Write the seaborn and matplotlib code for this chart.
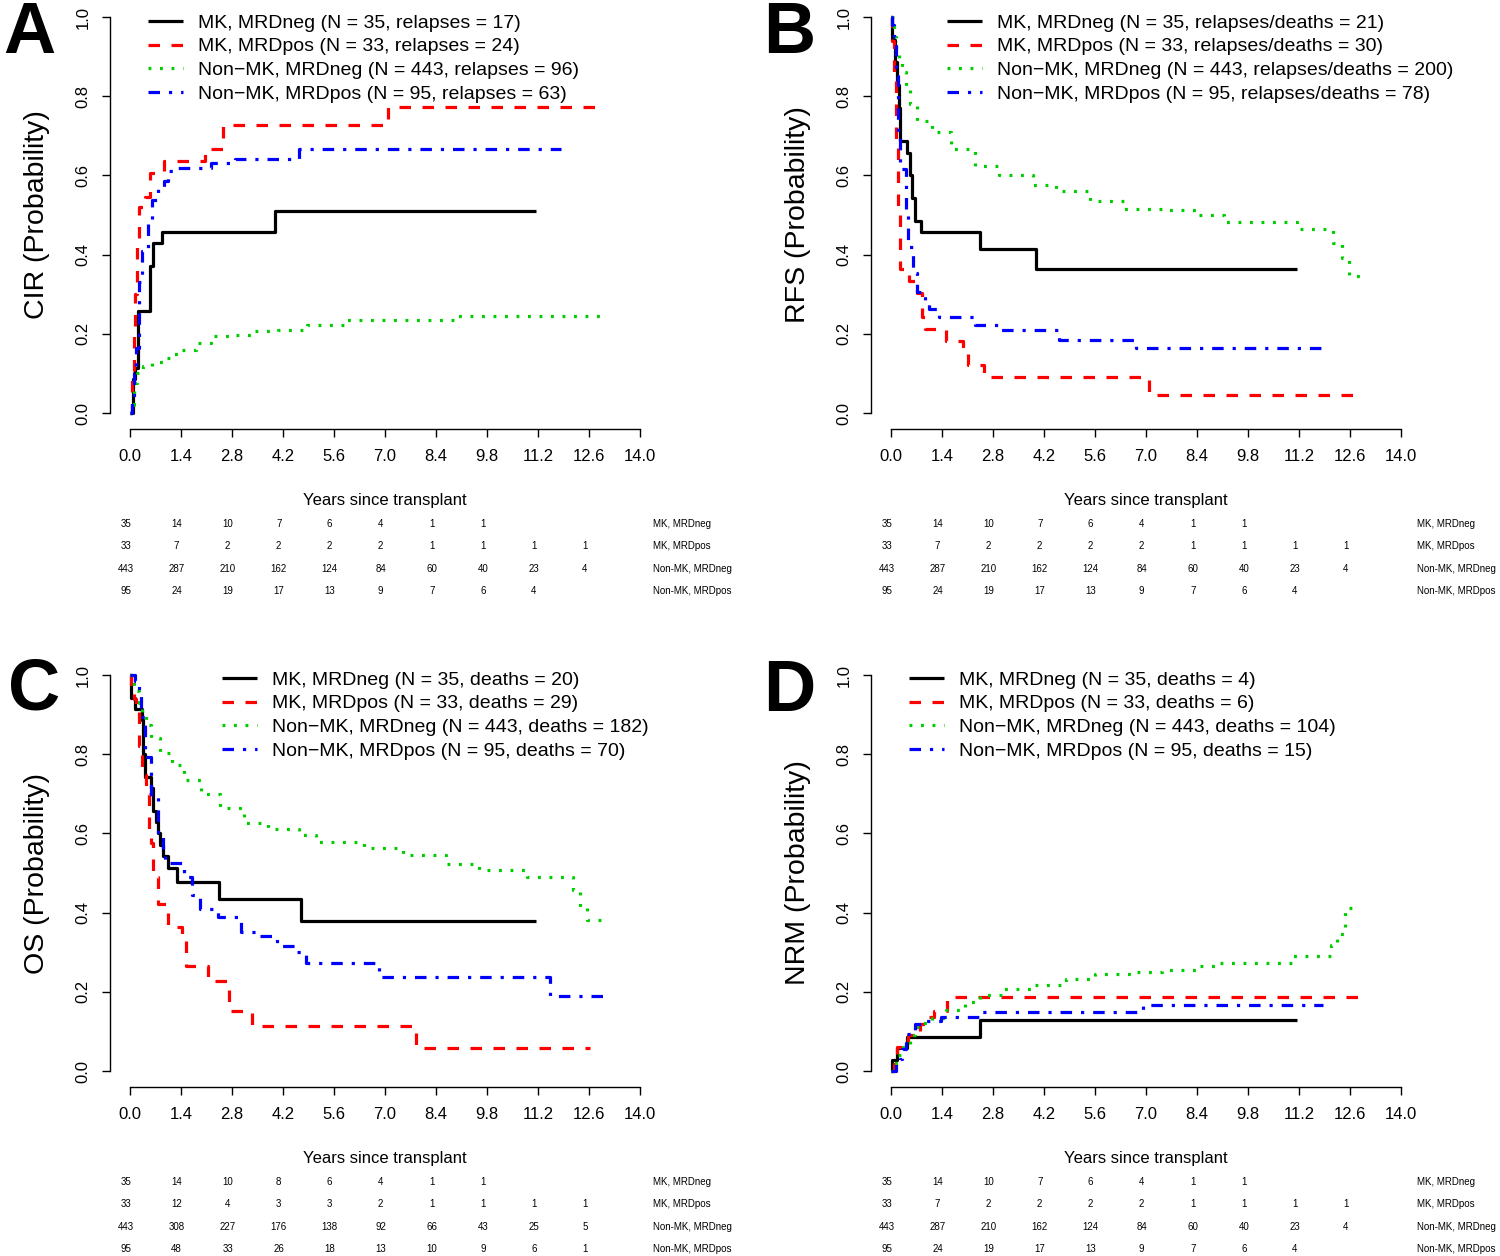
import numpy as np
import pandas as pd
import seaborn as sns
import matplotlib.pyplot as plt
from matplotlib.transforms import blended_transform_factory

# groups shown in every panel
groups = ['MK, MRDneg', 'MK, MRDpos', 'Non-MK, MRDneg', 'Non-MK, MRDpos']
colors = ['#000000', '#FF0000', '#00CD00', '#0000FF']

# ---- A: CIR ----
cir_mk_neg_t = [0, 0.07, 0.15, 0.22, 0.54, 0.63, 0.87, 3.99, 11.13]
cir_mk_neg_v = [0, 0.086, 0.114, 0.257, 0.371, 0.429, 0.457, 0.509, 0.509]
cir_mk_pos_t = [0, 0.05, 0.1, 0.14, 0.2, 0.24, 0.41, 0.54, 0.92, 2.06, 2.54, 7.09, 13.02]
cir_mk_pos_v = [0, 0.09, 0.2, 0.3, 0.42, 0.52, 0.545, 0.606, 0.636, 0.667, 0.727, 0.773, 0.773]
cir_nmk_neg_t = [0, 0.04, 0.1, 0.2, 0.37, 0.6, 0.9, 1.15, 1.42, 1.8, 2.21, 2.74, 3.4, 4.06, 4.85, 5.9, 9.0, 12.89]
cir_nmk_neg_v = [0, 0.02, 0.076, 0.1, 0.118, 0.13, 0.139, 0.15, 0.16, 0.178, 0.194, 0.198, 0.206, 0.21, 0.223, 0.234, 0.244, 0.244]
cir_nmk_pos_t = [0, 0.05, 0.1, 0.17, 0.24, 0.34, 0.5, 0.61, 0.76, 0.94, 1.03, 1.29, 2.21, 2.87, 4.65, 11.83]
cir_nmk_pos_v = [0, 0.04, 0.1, 0.164, 0.33, 0.408, 0.488, 0.539, 0.572, 0.585, 0.61, 0.62, 0.631, 0.641, 0.667, 0.667]

# ---- B: RFS ----
rfs_mk_neg_t = [0, 0.03, 0.1, 0.17, 0.22, 0.26, 0.43, 0.53, 0.57, 0.66, 0.83, 2.44, 3.99, 11.13]
rfs_mk_neg_v = [1, 0.943, 0.886, 0.829, 0.771, 0.686, 0.657, 0.6, 0.543, 0.486, 0.457, 0.414, 0.364, 0.364]
rfs_mk_pos_t = [0, 0.03, 0.07, 0.13, 0.2, 0.26, 0.5, 0.7, 0.85, 0.92, 1.51, 1.98, 2.11, 2.54, 7.09, 12.97]
rfs_mk_pos_v = [1, 0.94, 0.85, 0.68, 0.5, 0.364, 0.333, 0.303, 0.242, 0.212, 0.182, 0.152, 0.121, 0.091, 0.045, 0.045]
rfs_nmk_neg_t = [0, 0.07, 0.13, 0.22, 0.3, 0.4, 0.53, 0.72, 1.12, 1.65, 2.3, 2.96, 3.89, 4.54, 5.47, 6.39, 7.44, 8.36, 9.15, 11.13, 12.12, 12.38, 12.58, 12.97]
rfs_nmk_neg_v = [1, 0.95, 0.92, 0.89, 0.86, 0.82, 0.78, 0.738, 0.71, 0.667, 0.624, 0.6, 0.576, 0.561, 0.536, 0.516, 0.512, 0.5, 0.483, 0.464, 0.43, 0.392, 0.346, 0.346]
rfs_nmk_pos_t = [0, 0.03, 0.07, 0.13, 0.2, 0.26, 0.4, 0.46, 0.59, 0.72, 0.92, 1.05, 1.32, 2.3, 2.96, 4.61, 6.72, 11.98]
rfs_nmk_pos_v = [1, 0.98, 0.95, 0.85, 0.71, 0.616, 0.5, 0.42, 0.354, 0.305, 0.285, 0.263, 0.243, 0.222, 0.21, 0.185, 0.165, 0.165]

# ---- C: OS ----
os_mk_neg_t = [0, 0.04, 0.13, 0.33, 0.37, 0.41, 0.57, 0.63, 0.7, 0.76, 0.83, 0.9, 1.03, 1.29, 2.44, 4.69, 11.13]
os_mk_neg_v = [1, 0.943, 0.914, 0.886, 0.8, 0.743, 0.714, 0.657, 0.629, 0.6, 0.571, 0.543, 0.514, 0.478, 0.435, 0.38, 0.38]
os_mk_pos_t = [0, 0.04, 0.11, 0.17, 0.24, 0.33, 0.43, 0.53, 0.57, 0.63, 0.76, 1.03, 1.42, 1.53, 2.15, 2.71, 3.36, 7.85, 12.62]
os_mk_pos_v = [1, 0.97, 0.94, 0.91, 0.82, 0.747, 0.7, 0.606, 0.575, 0.49, 0.423, 0.364, 0.33, 0.265, 0.227, 0.152, 0.114, 0.057, 0.057]
os_nmk_neg_t = [0, 0.11, 0.24, 0.34, 0.43, 0.57, 0.83, 1.16, 1.49, 1.95, 2.48, 3.13, 3.79, 4.65, 5.11, 6.43, 7.48, 8.67, 9.59, 10.9, 12.16, 12.35, 12.55, 13.04]
os_nmk_neg_v = [1, 0.96, 0.93, 0.9, 0.874, 0.84, 0.802, 0.773, 0.735, 0.7, 0.663, 0.627, 0.612, 0.595, 0.579, 0.564, 0.545, 0.524, 0.507, 0.49, 0.457, 0.414, 0.381, 0.381]
os_nmk_pos_t = [0, 0.13, 0.24, 0.3, 0.4, 0.57, 0.76, 0.9, 0.96, 1.49, 1.69, 1.92, 2.41, 3.04, 3.53, 4.03, 4.58, 4.82, 6.82, 11.52, 13.21]
os_nmk_pos_v = [1, 0.985, 0.95, 0.895, 0.794, 0.692, 0.59, 0.55, 0.526, 0.49, 0.444, 0.41, 0.39, 0.352, 0.34, 0.315, 0.3, 0.274, 0.238, 0.19, 0.19]

# ---- D: NRM ----
nrm_mk_neg_t = [0, 0.03, 0.16, 0.43, 2.44, 11.13]
nrm_mk_neg_v = [0, 0.029, 0.057, 0.086, 0.128, 0.128]
nrm_mk_pos_t = [0, 0.07, 0.17, 0.46, 0.79, 0.92, 1.19, 1.54, 13.0]
nrm_mk_pos_v = [0, 0.03, 0.06, 0.09, 0.12, 0.136, 0.152, 0.187, 0.187]
nrm_nmk_neg_t = [0, 0.07, 0.2, 0.33, 0.53, 0.66, 0.79, 1.12, 1.51, 2.04, 2.44, 3.09, 3.89, 4.81, 5.6, 6.52, 7.44, 8.36, 9.02, 11.0, 12.08, 12.25, 12.45, 12.84]
nrm_nmk_neg_v = [0, 0.02, 0.04, 0.06, 0.09, 0.11, 0.121, 0.135, 0.155, 0.174, 0.191, 0.206, 0.217, 0.233, 0.246, 0.25, 0.254, 0.265, 0.274, 0.29, 0.318, 0.347, 0.413, 0.413]
nrm_nmk_pos_t = [0, 0.13, 0.26, 0.3, 0.4, 0.66, 0.92, 1.38, 2.44, 6.91, 11.85]
nrm_nmk_pos_v = [0, 0.02, 0.03, 0.055, 0.094, 0.12, 0.126, 0.137, 0.149, 0.168, 0.168]

# legend texts
cir_legend = ['MK, MRDneg (N = 35, relapses = 17)', 'MK, MRDpos (N = 33, relapses = 24)',
              'Non\u2212MK, MRDneg (N = 443, relapses = 96)', 'Non\u2212MK, MRDpos (N = 95, relapses = 63)']
rfs_legend = ['MK, MRDneg (N = 35, relapses/deaths = 21)', 'MK, MRDpos (N = 33, relapses/deaths = 30)',
              'Non\u2212MK, MRDneg (N = 443, relapses/deaths = 200)', 'Non\u2212MK, MRDpos (N = 95, relapses/deaths = 78)']
os_legend = ['MK, MRDneg (N = 35, deaths = 20)', 'MK, MRDpos (N = 33, deaths = 29)',
             'Non\u2212MK, MRDneg (N = 443, deaths = 182)', 'Non\u2212MK, MRDpos (N = 95, deaths = 70)']
nrm_legend = ['MK, MRDneg (N = 35, deaths = 4)', 'MK, MRDpos (N = 33, deaths = 6)',
              'Non\u2212MK, MRDneg (N = 443, deaths = 104)', 'Non\u2212MK, MRDpos (N = 95, deaths = 15)']

# numbers at risk
risk_std = [[35, 14, 10, 7, 6, 4, 1, 1],
            [33, 7, 2, 2, 2, 2, 1, 1, 1, 1],
            [443, 287, 210, 162, 124, 84, 60, 40, 23, 4],
            [95, 24, 19, 17, 13, 9, 7, 6, 4]]
risk_os = [[35, 14, 10, 8, 6, 4, 1, 1],
           [33, 12, 4, 3, 3, 2, 1, 1, 1, 1],
           [443, 308, 227, 176, 138, 92, 66, 43, 25, 5],
           [95, 48, 33, 26, 18, 13, 10, 9, 6, 1]]

sns.set_style('ticks')
plt.rcParams['font.family'] = ['Liberation Sans', 'DejaVu Sans']
plt.rcParams['lines.solid_capstyle'] = 'butt'
for k in ['text.color', 'axes.labelcolor', 'xtick.color', 'ytick.color', 'axes.edgecolor']:
    plt.rcParams[k] = 'black'

W, H = 1500, 1256
fig = plt.figure(figsize=(15, 12.56), dpi=100)

dash_map = {'MK, MRDneg': '', 'MK, MRDpos': (3.6, 3.6),
            'Non-MK, MRDneg': (0.9, 2.7), 'Non-MK, MRDpos': (3.6, 2.8, 1, 2.8)}


def make_df(curves):
    parts = []
    for g, (t, v) in zip(groups, curves):
        parts.append(pd.DataFrame({'t': t, 'v': v, 'group': g}))
    return pd.concat(parts, ignore_index=True)


def panel(left_px, top_px, curves, ylab, letter, letter_xy, labels, leg_xy, risk, lab_x):
    # axes geometry in pixels (R style 4% padding around 0..14 / 0..1)
    ax_w, ax_h = 551, 427.7
    ax = fig.add_axes([left_px / W, 1 - (top_px + ax_h) / H, ax_w / W, ax_h / H])
    df = make_df(curves)
    sns.lineplot(data=df, x='t', y='v', hue='group', style='group', hue_order=groups,
                 style_order=groups, palette=colors, dashes=dash_map, estimator=None,
                 errorbar=None, sort=False, drawstyle='steps-post', lw=2.3, legend=False, ax=ax)
    ax.set_xlim(-0.56, 14.56)
    ax.set_ylim(-0.04, 1.04)
    ax.set_xticks(np.arange(0, 14.01, 1.4))
    ax.set_xticklabels([f'{x:.1f}' for x in np.arange(0, 14.01, 1.4)])
    ax.set_yticks([0, 0.2, 0.4, 0.6, 0.8, 1.0])
    ax.set_yticklabels(['0.0', '0.2', '0.4', '0.6', '0.8', '1.0'])
    sns.despine(ax=ax)
    ax.spines['left'].set_bounds(0, 1)
    ax.spines['bottom'].set_bounds(0, 14)
    for s in ['left', 'bottom']:
        ax.spines[s].set_linewidth(1.0)
    ax.tick_params(axis='both', length=6, width=1.0, labelsize=12, color='black')
    ax.tick_params(axis='x', pad=8.5)
    ax.tick_params(axis='y', labelrotation=90, pad=7.5)
    for lb in ax.get_yticklabels():
        lb.set_va('center')
    ax.set_xlabel('')
    ax.set_ylabel('')
    ax.text(-0.132, 0.5, ylab, transform=ax.transAxes, rotation=90,
            ha='center', va='center', fontsize=20.5)

    tr = blended_transform_factory(ax.transData, ax.transAxes)
    ax.text(7, -0.168, 'Years since transplant', transform=tr, ha='center', va='center', fontsize=12)
    for i, row in enumerate(risk):
        y = -0.2226 - 0.0521 * i
        for j, n in enumerate(row):
            ax.text(1.4 * j - 0.12, y, str(n), transform=tr, ha='center', va='center', fontsize=7)
        ax.text(lab_x, y, groups[i], transform=tr, ha='left', va='center', fontsize=7)

    ax.legend(ax.get_lines()[:4], labels, loc='upper left',
              bbox_to_anchor=(leg_xy[0] / W, 1 - leg_xy[1] / H), bbox_transform=fig.transFigure,
              frameon=False, fontsize=14, handlelength=1.8, handletextpad=0.75,
              labelspacing=0.32, borderpad=0, borderaxespad=0)

    fig.text(letter_xy[0] / W, 1 - letter_xy[1] / H, letter, ha='left', va='top',
             fontsize=52, fontweight='bold')
    return ax


panel(109.6, 1.2,
      [(cir_mk_neg_t, cir_mk_neg_v), (cir_mk_pos_t, cir_mk_pos_v),
       (cir_nmk_neg_t, cir_nmk_neg_v), (cir_nmk_pos_t, cir_nmk_pos_v)],
      'CIR (Probability)', 'A', (3, 0), cir_legend, (148, 14), risk_std, 14.36)
panel(870.6, 1.2,
      [(rfs_mk_neg_t, rfs_mk_neg_v), (rfs_mk_pos_t, rfs_mk_pos_v),
       (rfs_nmk_neg_t, rfs_nmk_neg_v), (rfs_nmk_pos_t, rfs_nmk_pos_v)],
      'RFS (Probability)', 'B', (763, 0), rfs_legend, (947, 14), risk_std, 14.44)
panel(109.6, 659.2,
      [(os_mk_neg_t, os_mk_neg_v), (os_mk_pos_t, os_mk_pos_v),
       (os_nmk_neg_t, os_nmk_neg_v), (os_nmk_pos_t, os_nmk_pos_v)],
      'OS (Probability)', 'C', (8, 656), os_legend, (222, 671), risk_os, 14.36)
panel(870.6, 659.2,
      [(nrm_mk_neg_t, nrm_mk_neg_v), (nrm_mk_pos_t, nrm_mk_pos_v),
       (nrm_nmk_neg_t, nrm_nmk_neg_v), (nrm_nmk_pos_t, nrm_nmk_pos_v)],
      'NRM (Probability)', 'D', (763, 658), nrm_legend, (909, 671), risk_std, 14.44)

fig.savefig('out.png', dpi=100)
